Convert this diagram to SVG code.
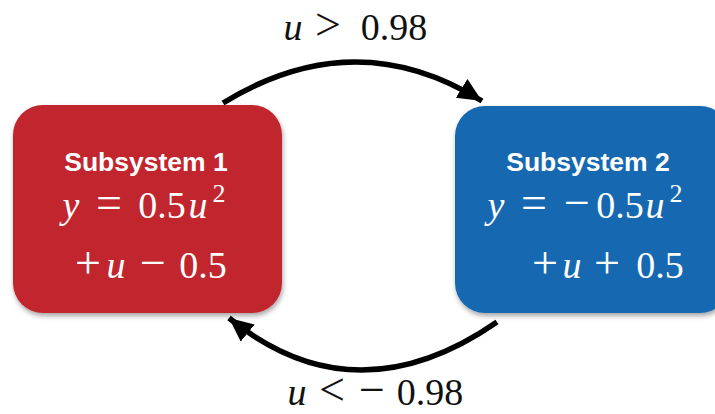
<svg xmlns="http://www.w3.org/2000/svg" width="715" height="414" viewBox="0 0 715 414">
<style>
.title{font-family:"Liberation Sans",Arial,sans-serif;font-weight:bold;font-size:26.5px;fill:#fff;text-anchor:middle}
.math{font-family:"Liberation Serif","DejaVu Serif",serif;font-size:38px;text-anchor:middle}
.w{fill:#fff}
.k{fill:#111}
.i{font-style:italic}
.op{font-size:46px}
.sup{font-size:26px}
.conn{fill:none;stroke:#000;stroke-width:5.5}
</style>
<defs>
<filter id="sh" x="-10%" y="-10%" width="120%" height="125%">
<feDropShadow dx="1" dy="3" stdDeviation="2.5" flood-color="#000" flood-opacity="0.35"/>
</filter>
<marker id="ah" markerUnits="userSpaceOnUse" markerWidth="30" markerHeight="30" refX="24" refY="11" orient="auto">
<path d="M0,0 L24,11 L0,22 Z" fill="#000"/>
</marker>
</defs>
<g id="connectors">
<path class="conn" d="M223,103 Q355,22 482,101" marker-end="url(#ah)"/>
<path class="conn" d="M497,322 Q355,420 229,318" marker-end="url(#ah)"/>
<text class="math k" y="40"><tspan class="i" x="293">u</tspan><tspan class="op" x="328">&gt;</tspan><tspan x="394">0.98</tspan></text>
<text class="math k" y="405"><tspan class="i" x="297">u</tspan><tspan class="op" x="332">&lt;</tspan><tspan class="op" x="372">−</tspan><tspan x="430">0.98</tspan></text>
</g>
<g id="subsystem1">
<rect x="13" y="105" width="269" height="208" rx="30" fill="#C1272D" filter="url(#sh)"/>
<text class="title" x="146" y="171">Subsystem 1</text>
<text class="math w" y="218"><tspan class="i" x="71">y</tspan><tspan class="op" x="109">=</tspan><tspan x="162">0.5</tspan><tspan class="i" x="198">u</tspan><tspan class="sup" x="219" y="202">2</tspan></text>
<text class="math w" y="278"><tspan class="op" x="88">+</tspan><tspan class="i" x="116">u</tspan><tspan class="op" x="153">−</tspan><tspan x="203">0.5</tspan></text>
</g>
<g id="subsystem2">
<rect x="455" y="106" width="275" height="207" rx="30" fill="#1769B1" filter="url(#sh)"/>
<text class="title" x="588" y="171">Subsystem 2</text>
<text class="math w" y="218"><tspan class="i" x="496">y</tspan><tspan class="op" x="534">=</tspan><tspan class="op" x="577">−</tspan><tspan x="620">0.5</tspan><tspan class="i" x="655">u</tspan><tspan class="sup" x="676" y="202">2</tspan></text>
<text class="math w" y="278"><tspan class="op" x="545">+</tspan><tspan class="i" x="572">u</tspan><tspan class="op" x="607">+</tspan><tspan x="660">0.5</tspan></text>
</g>
</svg>
